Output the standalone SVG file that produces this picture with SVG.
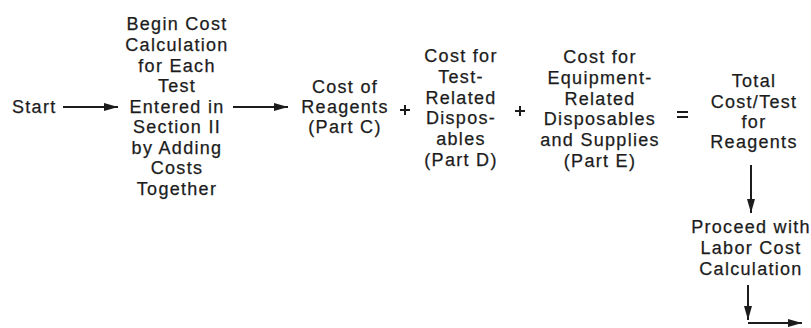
<svg xmlns="http://www.w3.org/2000/svg" width="811" height="328" viewBox="0 0 811 328">
  <style>
    text { font-family: "Liberation Sans", Arial, sans-serif; font-size: 18px; fill: #1c1c1c; stroke: #1c1c1c; stroke-width: 0.25px; letter-spacing: 1.3px; }
    .c { text-anchor: middle; }
    .ln { stroke: #1c1c1c; stroke-width: 2; fill: none; }
  </style>
  <defs>
    <marker id="arr" viewBox="0 0 14 8" refX="14" refY="4" markerWidth="14" markerHeight="8" markerUnits="userSpaceOnUse" orient="auto">
      <path d="M0,0 L14,4 L0,8 Z" fill="#1c1c1c"/>
    </marker>
  </defs>
  <rect width="811" height="328" fill="#ffffff"/>

  <g id="start">
    <text x="12" y="113">Start</text>
  </g>

  <g id="begin">
    <text class="c" x="177" y="30">Begin Cost</text>
    <text class="c" x="177" y="51">Calculation</text>
    <text class="c" x="177" y="72">for Each</text>
    <text class="c" x="177" y="92">Test</text>
    <text class="c" x="177" y="113">Entered in</text>
    <text class="c" x="177" y="133">Section II</text>
    <text class="c" x="177" y="154">by Adding</text>
    <text class="c" x="177" y="174">Costs</text>
    <text class="c" x="177" y="195">Together</text>
  </g>

  <g id="reagents">
    <text class="c" x="345" y="93">Cost of</text>
    <text class="c" x="345" y="113">Reagents</text>
    <text class="c" x="345" y="133">(Part C)</text>
  </g>

  <g id="test-disposables">
    <text class="c" x="461" y="62">Cost for</text>
    <text class="c" x="461" y="83">Test-</text>
    <text class="c" x="461" y="104">Related</text>
    <text class="c" x="461" y="124">Dispos-</text>
    <text class="c" x="461" y="145">ables</text>
    <text class="c" x="461" y="166">(Part D)</text>
  </g>

  <g id="equipment-disposables">
    <text class="c" x="600" y="63">Cost for</text>
    <text class="c" x="600" y="84">Equipment-</text>
    <text class="c" x="600" y="105">Related</text>
    <text class="c" x="600" y="125">Disposables</text>
    <text class="c" x="600" y="146">and Supplies</text>
    <text class="c" x="600" y="167">(Part E)</text>
  </g>

  <g id="total">
    <text class="c" x="754" y="87">Total</text>
    <text class="c" x="754" y="108">Cost/Test</text>
    <text class="c" x="754" y="128">for</text>
    <text class="c" x="754" y="148">Reagents</text>
  </g>

  <g id="labor">
    <text class="c" x="751" y="233">Proceed with</text>
    <text class="c" x="751" y="254">Labor Cost</text>
    <text class="c" x="751" y="275">Calculation</text>
  </g>

  <g id="operators">
    <path class="ln" d="M400,110 H410 M405,105 V115"/>
    <path class="ln" d="M515,111 H525 M520,106 V116"/>
    <path class="ln" d="M677,112 H688 M677,117 H688"/>
  </g>

  <g id="connectors">
    <path class="ln" d="M63,107 H118" marker-end="url(#arr)"/>
    <path class="ln" d="M233,107 H288" marker-end="url(#arr)"/>
    <path class="ln" d="M751,165 V213" marker-end="url(#arr)"/>
    <path class="ln" d="M748,285 V320" marker-end="url(#arr)"/>
    <path class="ln" d="M748,323 H802" marker-end="url(#arr)"/>
  </g>
</svg>
